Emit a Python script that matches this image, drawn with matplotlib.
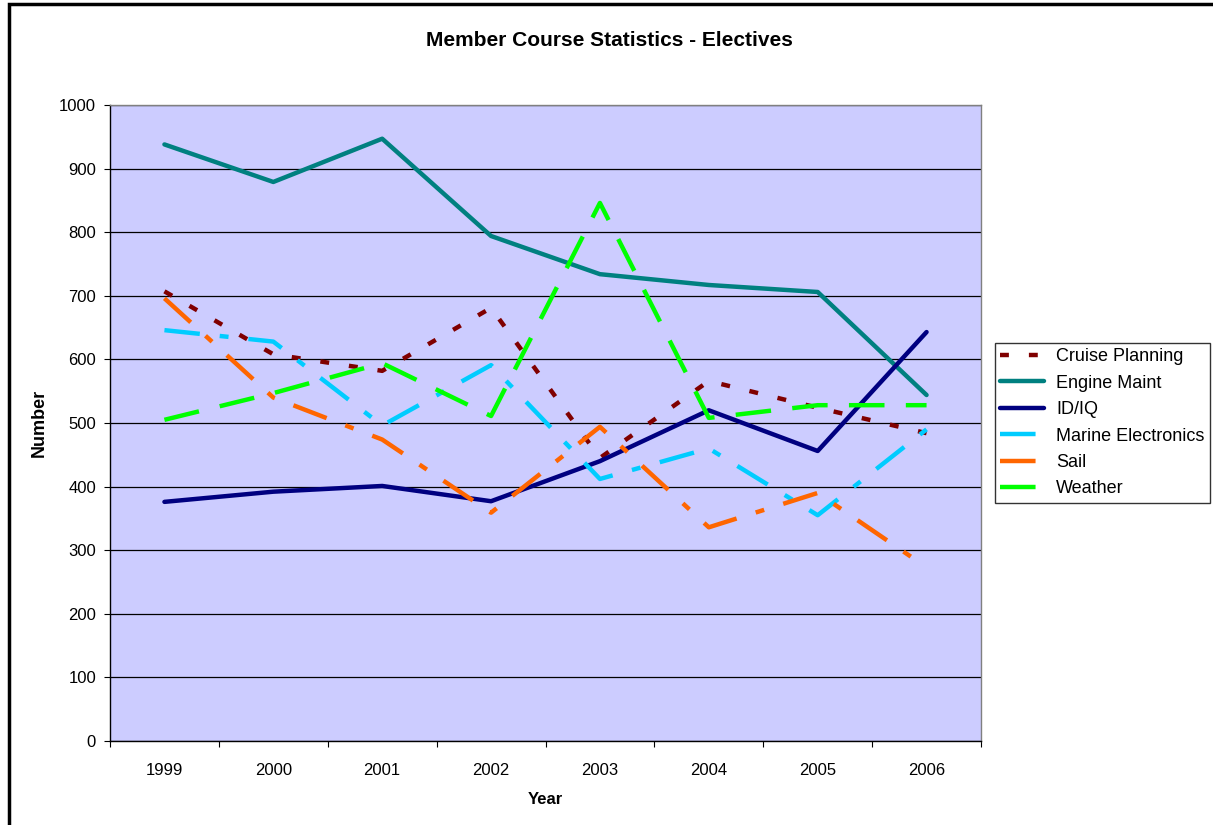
"""Member course statistics - electives, line chart in the old Excel look."""

import matplotlib
matplotlib.use("Agg")
import matplotlib.pyplot as plt
from matplotlib.patches import Rectangle
from matplotlib.ticker import FixedLocator, NullFormatter

plt.rcParams["font.family"] = ["Liberation Sans", "DejaVu Sans"]

years = ["1999", "2000", "2001", "2002", "2003", "2004", "2005", "2006"]

cruise_planning = [707, 608, 582, 681, 445, 566, 524, 484]
engine_maint = [938, 879, 947, 794, 734, 717, 706, 544]
id_iq = [376, 392, 401, 377, 440, 520, 456, 643]
marine_electronics = [646, 628, 496, 591, 412, 460, 355, 490]
sail = [696, 540, 474, 359, 494, 336, 390, 273]
weather = [505, 547, 594, 511, 846, 508, 528, 528]

series = [
    ("Cruise Planning", cruise_planning, "#800000", (0, (2, 4.5))),
    ("Engine Maint", engine_maint, "#008080", "-"),
    ("ID/IQ", id_iq, "#000080", "-"),
    ("Marine Electronics", marine_electronics, "#00CCFF", (0, (8, 4.5, 2, 4.5))),
    ("Sail", sail, "#FF6600", (0, (8, 4.5, 2, 4.5))),
    ("Weather", weather, "#00FF00", (0, (8, 4.8))),
]

W, H = 1213, 825
fig = plt.figure(figsize=(W / 100, H / 100), dpi=100)
fig.patch.set_facecolor("white")

# outer chart frame (cut off on the right and bottom in the original)
fig.patches.append(Rectangle((9 / W, -0.05), 1.2, 1 - 4 / H + 0.05,
                             transform=fig.transFigure, fill=False,
                             edgecolor="black", linewidth=2.5))

ax = fig.add_axes([110 / W, 1 - 741 / H, (981 - 110) / W, (741 - 105) / H])
ax.set_facecolor("#CCCCFF")

x = list(range(len(years)))
lw = 3.2
for name, vals, color, ls in series:
    ax.plot(x, vals, color=color, linestyle=ls, linewidth=lw, label=name,
            solid_capstyle="round" if ls == "-" else "butt",
            dash_capstyle="butt", zorder=3)

ax.set_xlim(-0.5, len(years) - 0.5)
ax.set_ylim(0, 1000)
ax.set_yticks(range(0, 1001, 100))
ax.yaxis.grid(True, color="black", linewidth=0.9)
ax.set_axisbelow(True)

ax.xaxis.set_major_locator(FixedLocator([i - 0.5 for i in range(len(years) + 1)]))
ax.xaxis.set_major_formatter(NullFormatter())
ax.xaxis.set_minor_locator(FixedLocator(x))
ax.set_xticklabels(years, minor=True)
ax.tick_params(axis="x", which="major", direction="out", length=4.5, width=0.8)
ax.tick_params(axis="x", which="minor", length=0, pad=16, labelsize=12)
ax.tick_params(axis="y", direction="out", length=4.5, width=0.8, labelsize=12, pad=5.5)

for side in ("top", "right"):
    ax.spines[side].set_color("#808080")
    ax.spines[side].set_linewidth(1)
for side in ("left", "bottom"):
    ax.spines[side].set_color("black")
    ax.spines[side].set_linewidth(1)

ax.set_xlabel("Year", fontsize=12, fontweight="bold", labelpad=10)
ax.set_ylabel("Number", fontsize=13, fontweight="bold", labelpad=8)
fig.text(609 / W, 1 - 40 / H, "Member Course Statistics - Electives",
         ha="center", va="center", fontsize=15, fontweight="bold")

leg = ax.legend(loc="upper left", bbox_to_anchor=(995 / W, 1 - 343 / H),
                bbox_transform=fig.transFigure, frameon=True, fancybox=False,
                shadow=False, fontsize=13, handlelength=2.4, handletextpad=0.7,
                labelspacing=0.52, borderpad=0.3, borderaxespad=0)
leg.get_frame().set_edgecolor("black")
leg.get_frame().set_linewidth(1)

fig.savefig("out.png", dpi=100, facecolor="white")
